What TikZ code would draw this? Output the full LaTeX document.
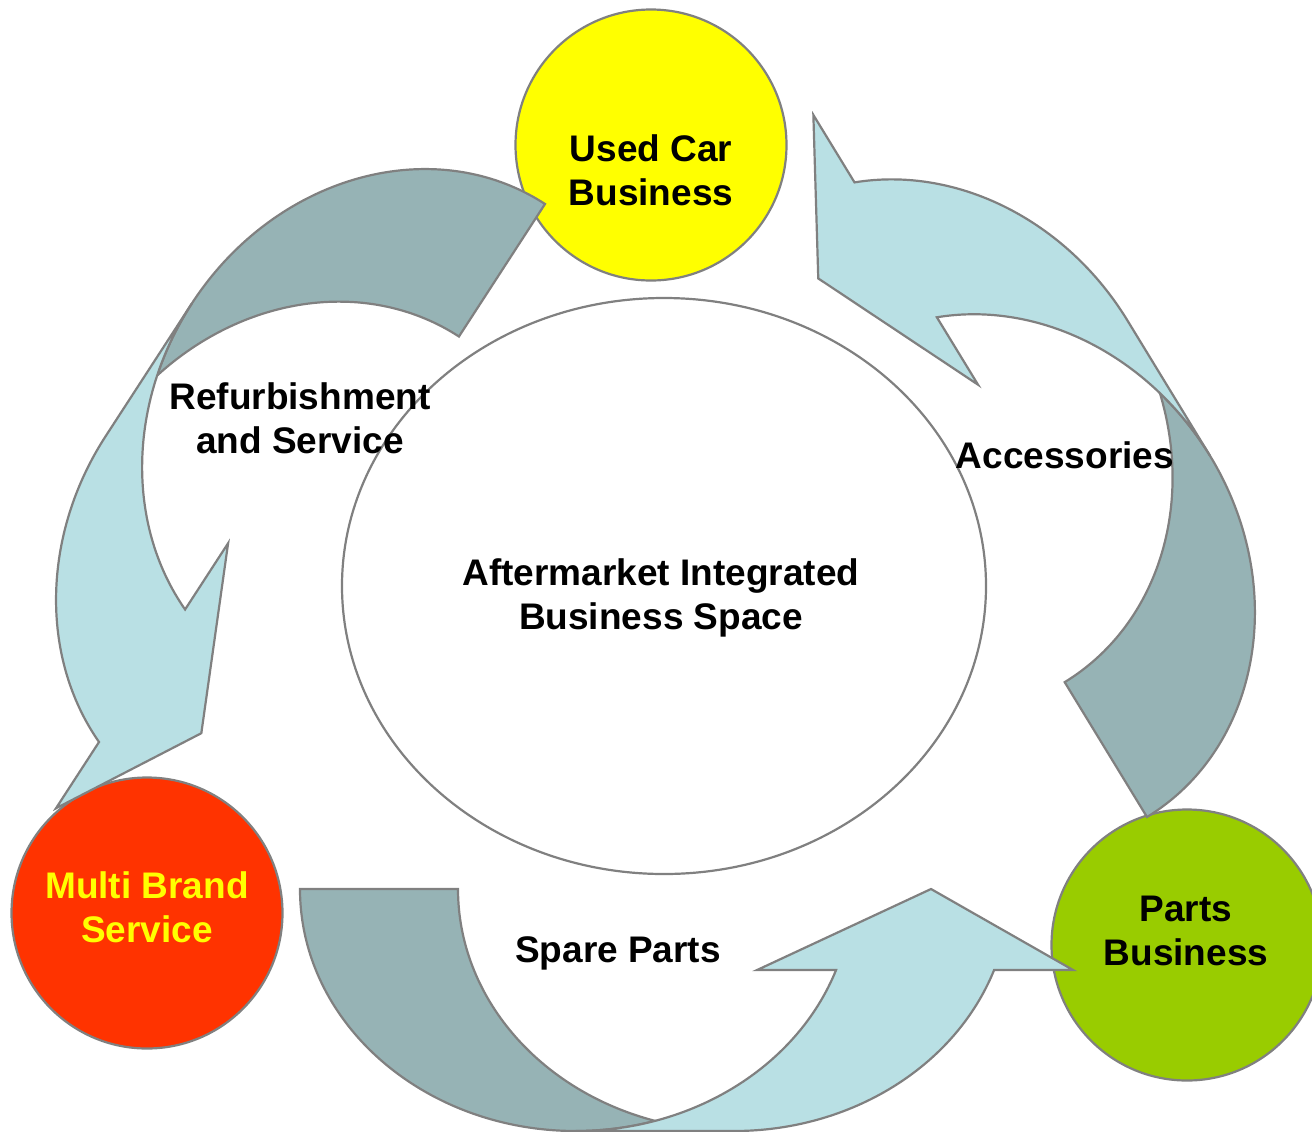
\documentclass[tikz,border=0pt]{standalone}
\usepackage{fontspec}
\setmainfont{Liberation Sans}
\usetikzlibrary{shapes.geometric}
\definecolor{darkband}{RGB}{150,179,181}
\definecolor{lightband}{RGB}{185,224,228}
\definecolor{edgegray}{RGB}{128,128,128}
\definecolor{ucyellow}{RGB}{255,255,0}
\definecolor{mbred}{RGB}{255,51,0}
\definecolor{pbgreen}{RGB}{153,204,0}
\tikzset{
  backband/.style={fill=darkband, draw=edgegray, line width=1.1pt},
  frontband/.style={fill=lightband, draw=edgegray, line width=1.1pt},
  bizcircle/.style={circle, draw=edgegray, line width=1.1pt, minimum size=135.5pt, inner sep=0pt},
  lbl/.style={font={\fontsize{18.5}{22}\selectfont\bfseries}, align=center, text=black, inner sep=0pt}
}
\newcommand{\curvedband}{%
  \path[backband] (276,242) arc[start angle=90,end angle=180,x radius=276,y radius=242]
    -- (158,0) arc[start angle=180,end angle=106.63,x radius=276,y radius=242]
    arc[start angle=73.37,end angle=90,x radius=276,y radius=242] -- cycle;
  \path[frontband] (631,0) -- (773.1,81) -- (694.1,81)
    arc[start angle=19.555,end angle=90,x radius=276,y radius=242]
    -- (276,242) arc[start angle=90,end angle=19.555,x radius=276,y radius=242]
    -- (457.1,81) -- cycle;
}
\begin{document}
\begin{tikzpicture}[x=0.5pt,y=-0.5pt]
  \useasboundingbox (0,0) rectangle (1312,1131);
  \clip (0,0) rectangle (1312,1131);
  \fill[white] (0,0) rectangle (1312,1131);
  % central ellipse
  \node[ellipse, draw=edgegray, line width=1.1pt, fill=white, minimum width=322pt, minimum height=288pt, inner sep=0pt] (space) at (664,586) {};
  % business circles
  \node[bizcircle, fill=ucyellow] (usedcarc) at (651,145) {};
  \node[bizcircle, fill=mbred] (multic) at (147,913) {};
  \node[bizcircle, fill=pbgreen] (partsc) at (1187,945) {};
  % curved arrows
  \begin{scope}[shift={(300,889)}]
    \curvedband
  \end{scope}
  \begin{scope}[shift={(545,204)}, rotate=-123]
    \curvedband
  \end{scope}
  \begin{scope}[shift={(1147,817)}, rotate=121.4]
    \curvedband
  \end{scope}
  % labels
  \node[lbl] (usedcar) at (651,170) {Used Car\\Business};
  \node[lbl, text=ucyellow] (multi) at (147,907) {Multi Brand\\Service};
  \node[lbl] (parts) at (1186,931) {Parts\\Business};
  \node[lbl] (center) at (661,598) {Aftermarket Integrated\\Business Space};
  \node[lbl] (refurb) at (300,418) {Refurbishment\\and Service};
  \node[lbl] (access) at (1065,455) {Accessories};
  \node[lbl] (spare) at (618,953) {Spare Parts};
\end{tikzpicture}
\end{document}
